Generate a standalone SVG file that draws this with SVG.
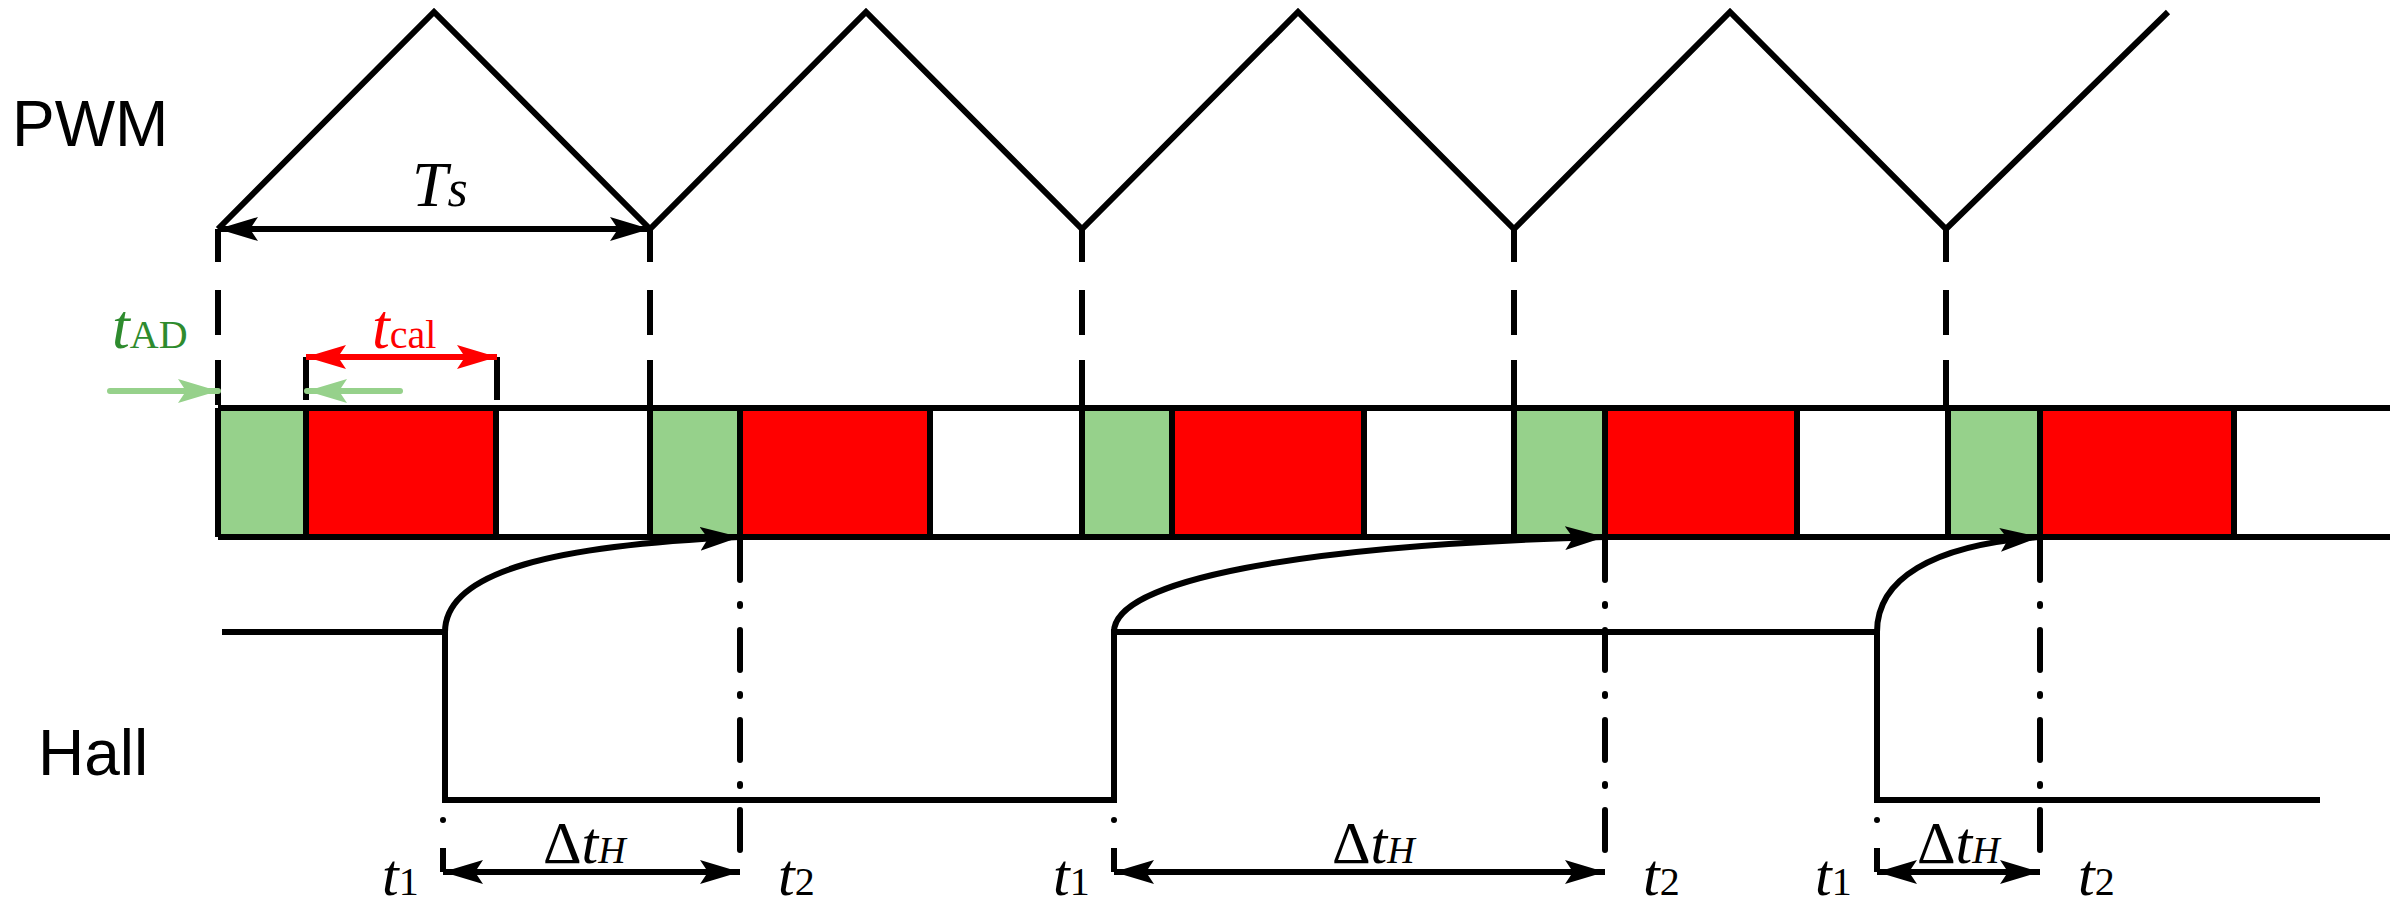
<svg xmlns="http://www.w3.org/2000/svg" width="2393" height="920" viewBox="0 0 2393 920">
<defs>
<style>
.k{stroke:#000;stroke-width:6;fill:none}
.dash{stroke:#000;stroke-width:6;fill:none;stroke-dasharray:45 25}
.dd{stroke:#000;stroke-width:6;fill:none;stroke-dasharray:40 24 2 24;stroke-linecap:round}
.g{fill:#96D18B}
.r{fill:#FF0000}
.lbl{font-family:"Liberation Sans",Arial,sans-serif;font-size:64px;fill:#000}
.m{font-family:"Liberation Serif","Times New Roman",serif;fill:#000}
.it{font-style:italic}
</style>
<marker id="ab" viewBox="0 0 40 24" refX="40" refY="12" markerWidth="40" markerHeight="24" markerUnits="userSpaceOnUse" orient="auto-start-reverse"><path d="M0,0 L40,12 L0,24 L8,12 Z" fill="#000"/></marker>
<marker id="ar" viewBox="0 0 40 24" refX="40" refY="12" markerWidth="40" markerHeight="24" markerUnits="userSpaceOnUse" orient="auto-start-reverse"><path d="M0,0 L40,12 L0,24 L8,12 Z" fill="#F00"/></marker>
<marker id="ag" viewBox="0 0 40 24" refX="40" refY="12" markerWidth="40" markerHeight="24" markerUnits="userSpaceOnUse" orient="auto-start-reverse"><path d="M0,0 L40,12 L0,24 L8,12 Z" fill="#96D18B"/></marker>
</defs>
<rect width="2393" height="920" fill="#fff"/>
<g id="boxes">
<rect class="g" x="218" y="408" width="88" height="129"/><rect class="r" x="306" y="408" width="190" height="129"/>
<rect class="g" x="650" y="408" width="90" height="129"/><rect class="r" x="740" y="408" width="190" height="129"/>
<rect class="g" x="1082" y="408" width="90" height="129"/><rect class="r" x="1172" y="408" width="192" height="129"/>
<rect class="g" x="1514" y="408" width="91" height="129"/><rect class="r" x="1605" y="408" width="192" height="129"/>
<rect class="g" x="1948" y="408" width="92" height="129"/><rect class="r" x="2040" y="408" width="194" height="129"/>
<path class="k" d="M218,408H2390M218,537H2390M218,408V537M306,408V537M496,408V537M650,408V537M740,408V537M930,408V537M1082,408V537M1172,408V537M1364,408V537M1514,408V537M1605,408V537M1797,408V537M1948,408V537M2040,408V537M2234,408V537"/>
</g>
<g id="pwm">
<path class="k" d="M218,229L434,12L650,229L866,12L1082,229L1298,12L1514,229L1730,12L1946,229L2168,12"/>
</g>
<g id="hall">
<path class="k" d="M222,632H445V800H1114V632H1877V800H2320"/>
</g>
<g id="connectors">
<path class="k" d="M218,229V262M650,229V262M1082,229V262M1514,229V262M1946,229V262"/>
<path class="dash" d="M218,290V408M650,290V408M1082,290V408M1514,290V408M1946,290V408"/>
<path class="dd" d="M740,540V872M1605,540V872M2040,540V872"/>
<path class="k" d="M443,848V872M1114,848V872M1877,848V872"/>
<circle cx="443" cy="820" r="3"/><circle cx="1114" cy="820" r="3"/><circle cx="1877" cy="820" r="3"/>
<path class="k" d="M306,357V400M497,357V400"/>
<path class="k" marker-start="url(#ab)" marker-end="url(#ab)" d="M218,229H650"/>
<path stroke="#F00" stroke-width="6" fill="none" marker-start="url(#ar)" marker-end="url(#ar)" d="M306,357H497"/>
<path stroke="#96D18B" stroke-width="6" stroke-linecap="round" fill="none" marker-end="url(#ag)" d="M110,391H218"/>
<path stroke="#96D18B" stroke-width="6" stroke-linecap="round" fill="none" marker-end="url(#ag)" d="M400,391H307"/>
<path class="k" marker-end="url(#ab)" d="M445,632C445,570 560,545 740,537"/>
<path class="k" marker-end="url(#ab)" d="M1114,632C1114,580 1300,545 1605,537"/>
<path class="k" marker-end="url(#ab)" d="M1877,632C1877,580 1930,545 2040,537"/>
<path class="k" marker-start="url(#ab)" marker-end="url(#ab)" d="M443,872H740"/>
<path class="k" marker-start="url(#ab)" marker-end="url(#ab)" d="M1114,872H1605"/>
<path class="k" marker-start="url(#ab)" marker-end="url(#ab)" d="M1877,872H2040"/>
</g>
<g id="labels">
<text class="lbl" x="12" y="146">PWM</text>
<text class="lbl" x="38" y="775">Hall</text>
<text class="m" x="412" y="206" font-size="64"><tspan class="it">T</tspan><tspan class="it" font-size="52">s</tspan></text>
<text class="m" x="112" y="348" font-size="64" fill="#2E8B2E" style="fill:#2E8B2E"><tspan class="it">t</tspan><tspan font-size="40">AD</tspan></text>
<text class="m" x="372" y="348" font-size="64" style="fill:#F00"><tspan class="it">t</tspan><tspan font-size="40">cal</tspan></text>
<text class="m" x="543" y="863" font-size="60">Δ<tspan class="it">t</tspan><tspan class="it" font-size="38">H</tspan></text>
<text class="m" x="1332" y="863" font-size="60">Δ<tspan class="it">t</tspan><tspan class="it" font-size="38">H</tspan></text>
<text class="m" x="1917" y="863" font-size="60">Δ<tspan class="it">t</tspan><tspan class="it" font-size="38">H</tspan></text>
<text class="m" x="382" y="895" font-size="60"><tspan class="it">t</tspan><tspan font-size="40">1</tspan></text>
<text class="m" x="1053" y="895" font-size="60"><tspan class="it">t</tspan><tspan font-size="40">1</tspan></text>
<text class="m" x="1815" y="895" font-size="60"><tspan class="it">t</tspan><tspan font-size="40">1</tspan></text>
<text class="m" x="778" y="895" font-size="60"><tspan class="it">t</tspan><tspan font-size="40">2</tspan></text>
<text class="m" x="1643" y="895" font-size="60"><tspan class="it">t</tspan><tspan font-size="40">2</tspan></text>
<text class="m" x="2078" y="895" font-size="60"><tspan class="it">t</tspan><tspan font-size="40">2</tspan></text>
</g>
</svg>
